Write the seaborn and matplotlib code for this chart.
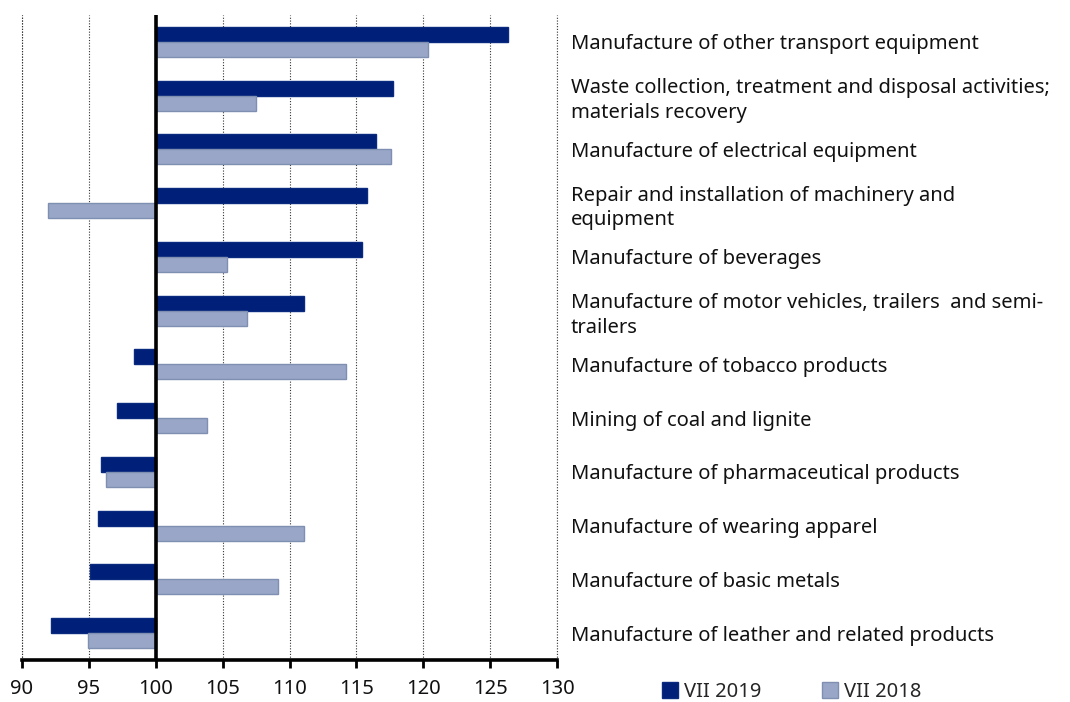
import matplotlib
matplotlib.use("Agg")
import numpy as np
import pandas as pd
import seaborn as sns
from matplotlib import pyplot as plt
from matplotlib.ticker import FuncFormatter, MultipleLocator

categories = [
    "Manufacture of other transport equipment",
    "Waste collection, treatment and disposal activities;\nmaterials recovery",
    "Manufacture of electrical equipment",
    "Repair and installation of machinery and\nequipment",
    "Manufacture of beverages",
    "Manufacture of motor vehicles, trailers  and semi-\ntrailers",
    "Manufacture of tobacco products",
    "Mining of coal and lignite",
    "Manufacture of pharmaceutical products",
    "Manufacture of wearing apparel",
    "Manufacture of basic metals",
    "Manufacture of leather and related products",
]
vii_2019 = [126.3, 117.7, 116.5, 115.8, 115.4, 111.1, 98.4, 97.1, 95.9, 95.7, 95.1, 92.2]
vii_2018 = [120.35, 107.5, 117.6, 91.95, 105.35, 106.8, 114.25, 103.85, 96.3, 111.1, 109.1, 94.95]
series_names = ["VII 2019", "VII 2018"]
base = 100

df = pd.DataFrame({
    "category": categories * 2,
    "series": [series_names[0]] * len(categories) + [series_names[1]] * len(categories),
    "value": vii_2019 + vii_2018,
})
# bars start at the base index (100), so plot the deviation and relabel the axis
df["dev"] = df["value"] - base

sns.set_style("white")
plt.rcParams["font.family"] = ["Noto Sans", "DejaVu Sans"]

fig = plt.figure(figsize=(10.7, 7.02), dpi=100)
ax = fig.add_axes([0.0206, 0.0598, 0.5, 0.9188])

colors = {"VII 2019": "#001f78", "VII 2018": "#99a6c8"}
sns.barplot(data=df, x="dev", y="category", hue="series", hue_order=series_names,
            palette=colors, saturation=1, orient="h", width=0.56, ax=ax, legend=False)

edges = {"VII 2019": "#0a2a80", "VII 2018": "#7f8fb2"}
for cont, name in zip(ax.containers, series_names):
    for bar in cont:
        bar.set_edgecolor(edges[name])
        bar.set_linewidth(1.0)

ax.set_xlim(-10, 30)
ax.xaxis.set_major_locator(MultipleLocator(5))
ax.xaxis.set_major_formatter(FuncFormatter(lambda v, _: f"{v + base:.0f}"))
ax.grid(axis="x", linestyle=(0, (1, 1.5)), color="#333333", linewidth=0.8)
ax.grid(axis="y", visible=False)
ax.set_axisbelow(True)
ax.axvline(0, color="black", linewidth=2.6, zorder=3)
# the outer gridlines sit on the axes edge; draw them unclipped
for edge in ax.get_xlim():
    ax.axvline(edge, linestyle=(0, (1, 1.5)), color="#333333", linewidth=0.8, clip_on=False)

for side in ["left", "right", "top"]:
    ax.spines[side].set_visible(False)
ax.spines["bottom"].set_color("black")
ax.spines["bottom"].set_linewidth(2.6)

ax.yaxis.tick_right()
ax.tick_params(axis="y", length=0, pad=10, labelsize=14.5, labelcolor="#111111")
ax.tick_params(axis="x", direction="out", length=6, width=2, color="black",
               labelsize=14.5, pad=8, labelcolor="#111111", bottom=True)
for lbl in ax.get_yticklabels():
    lbl.set_horizontalalignment("left")
    lbl.set_linespacing(1.3)
ax.set_xlabel("")
ax.set_ylabel("")

handles = [plt.Rectangle((0, 0), 1, 1, facecolor=colors[n], edgecolor=edges[n]) for n in series_names]
fig.legend(handles, series_names, loc="center", bbox_to_anchor=(0.74, 0.014),
           ncol=2, frameon=False, fontsize=14.5, handlelength=0.8, handleheight=0.8,
           handletextpad=0.3, columnspacing=3.0)

fig.savefig("out.png", dpi=100)
